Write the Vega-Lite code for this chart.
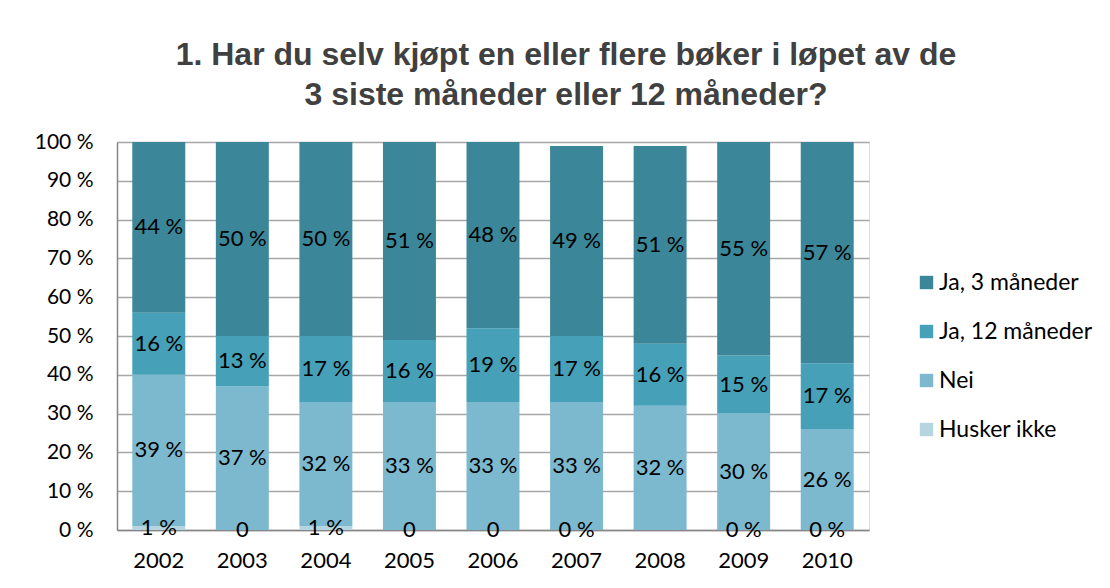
{
  "$schema": "https://vega.github.io/schema/vega-lite/v6.json",
  "autosize": {"type": "none"},
  "width": 752,
  "height": 388,
  "padding": {"left": 117, "top": 142, "right": 241, "bottom": 58},
  "background": "white",
  "title": {
    "text": ["1. Har du selv kjøpt en eller flere bøker i løpet av de", "3 siste måneder eller 12 måneder?"],
    "font": "Liberation Sans",
    "fontSize": 32,
    "fontWeight": "bold",
    "color": "#404040",
    "lineHeight": 40,
    "anchor": "middle",
    "dx": 73,
    "offset": 19
  },
  "data": {
    "values": [
      {"year": "2002", "category": "Husker ikke", "order": 1, "value": 1, "label": "1 %"},
      {"year": "2002", "category": "Nei", "order": 2, "value": 39, "label": "39 %"},
      {"year": "2002", "category": "Ja, 12 måneder", "order": 3, "value": 16, "label": "16 %"},
      {"year": "2002", "category": "Ja, 3 måneder", "order": 4, "value": 44, "label": "44 %"},
      {"year": "2003", "category": "Husker ikke", "order": 1, "value": 0, "label": "0"},
      {"year": "2003", "category": "Nei", "order": 2, "value": 37, "label": "37 %"},
      {"year": "2003", "category": "Ja, 12 måneder", "order": 3, "value": 13, "label": "13 %"},
      {"year": "2003", "category": "Ja, 3 måneder", "order": 4, "value": 50, "label": "50 %"},
      {"year": "2004", "category": "Husker ikke", "order": 1, "value": 1, "label": "1 %"},
      {"year": "2004", "category": "Nei", "order": 2, "value": 32, "label": "32 %"},
      {"year": "2004", "category": "Ja, 12 måneder", "order": 3, "value": 17, "label": "17 %"},
      {"year": "2004", "category": "Ja, 3 måneder", "order": 4, "value": 50, "label": "50 %"},
      {"year": "2005", "category": "Husker ikke", "order": 1, "value": 0, "label": "0"},
      {"year": "2005", "category": "Nei", "order": 2, "value": 33, "label": "33 %"},
      {"year": "2005", "category": "Ja, 12 måneder", "order": 3, "value": 16, "label": "16 %"},
      {"year": "2005", "category": "Ja, 3 måneder", "order": 4, "value": 51, "label": "51 %"},
      {"year": "2006", "category": "Husker ikke", "order": 1, "value": 0, "label": "0"},
      {"year": "2006", "category": "Nei", "order": 2, "value": 33, "label": "33 %"},
      {"year": "2006", "category": "Ja, 12 måneder", "order": 3, "value": 19, "label": "19 %"},
      {"year": "2006", "category": "Ja, 3 måneder", "order": 4, "value": 48, "label": "48 %"},
      {"year": "2007", "category": "Husker ikke", "order": 1, "value": 0, "label": "0 %"},
      {"year": "2007", "category": "Nei", "order": 2, "value": 33, "label": "33 %"},
      {"year": "2007", "category": "Ja, 12 måneder", "order": 3, "value": 17, "label": "17 %"},
      {"year": "2007", "category": "Ja, 3 måneder", "order": 4, "value": 49, "label": "49 %"},
      {"year": "2008", "category": "Husker ikke", "order": 1, "value": 0, "label": ""},
      {"year": "2008", "category": "Nei", "order": 2, "value": 32, "label": "32 %"},
      {"year": "2008", "category": "Ja, 12 måneder", "order": 3, "value": 16, "label": "16 %"},
      {"year": "2008", "category": "Ja, 3 måneder", "order": 4, "value": 51, "label": "51 %"},
      {"year": "2009", "category": "Husker ikke", "order": 1, "value": 0, "label": "0 %"},
      {"year": "2009", "category": "Nei", "order": 2, "value": 30, "label": "30 %"},
      {"year": "2009", "category": "Ja, 12 måneder", "order": 3, "value": 15, "label": "15 %"},
      {"year": "2009", "category": "Ja, 3 måneder", "order": 4, "value": 55, "label": "55 %"},
      {"year": "2010", "category": "Husker ikke", "order": 1, "value": 0, "label": "0 %"},
      {"year": "2010", "category": "Nei", "order": 2, "value": 26, "label": "26 %"},
      {"year": "2010", "category": "Ja, 12 måneder", "order": 3, "value": 17, "label": "17 %"},
      {"year": "2010", "category": "Ja, 3 måneder", "order": 4, "value": 57, "label": "57 %"}
    ]
  },
  "transform": [
    {"stack": "value", "groupby": ["year"], "sort": [{"field": "order", "order": "ascending"}], "as": ["y0", "y1"]}
  ],
  "encoding": {
    "x": {
      "field": "year", "type": "nominal", "title": null,
      "scale": {"paddingInner": 0.366, "paddingOuter": 0.183},
      "axis": {"labelAngle": 0, "ticks": false, "labelPadding": 20, "labelFontSize": 22, "labelFont": "Lato", "labelColor": "#000000", "domainColor": "#868686", "domainWidth": 1.5, "grid": false}
    },
    "y": {
      "field": "y1", "type": "quantitative", "title": null,
      "scale": {"domain": [0, 100], "nice": false},
      "axis": {"tickCount": 12, "values": [0, 10, 20, 30, 40, 50, 60, 70, 80, 90, 100], "labelOverlap": false, "grid": true, "labelExpr": "datum.value + ' %'", "ticks": false, "labelPadding": 24, "labelFontSize": 21, "labelFont": "Lato", "labelColor": "#000000", "domainColor": "#868686", "domainWidth": 1.5, "gridColor": "#A6A6A6", "gridWidth": 1.5}
    }
  },
  "layer": [
    {
      "mark": {"type": "bar", "stroke": null},
      "encoding": {
        "y2": {"field": "y0"},
        "color": {
          "field": "category", "type": "nominal",
          "scale": {"domain": ["Ja, 3 måneder", "Ja, 12 måneder", "Nei", "Husker ikke"], "range": ["#3B8799", "#45A0B8", "#7CB9CF", "#B5D5E0"]},
          "legend": {"title": null, "orient": "none", "legendX": 798, "legendY": 129, "symbolType": "square", "symbolSize": 180, "symbolStrokeWidth": 0, "labelFont": "Lato", "labelFontSize": 23, "labelColor": "#000000", "rowPadding": 25, "labelOffset": 1}
        }
      }
    },
    {
      "transform": [
        {"fold": ["y0", "y1"], "as": ["edge", "pos"]},
        {"aggregate": [{"op": "mean", "field": "pos", "as": "y1"}], "groupby": ["year", "category", "label"]}
      ],
      "mark": {"type": "text", "font": "Lato", "fontSize": 22, "color": "#000000", "baseline": "middle", "align": "center"},
      "encoding": {
        "text": {"field": "label"}
      }
    }
  ]
}
